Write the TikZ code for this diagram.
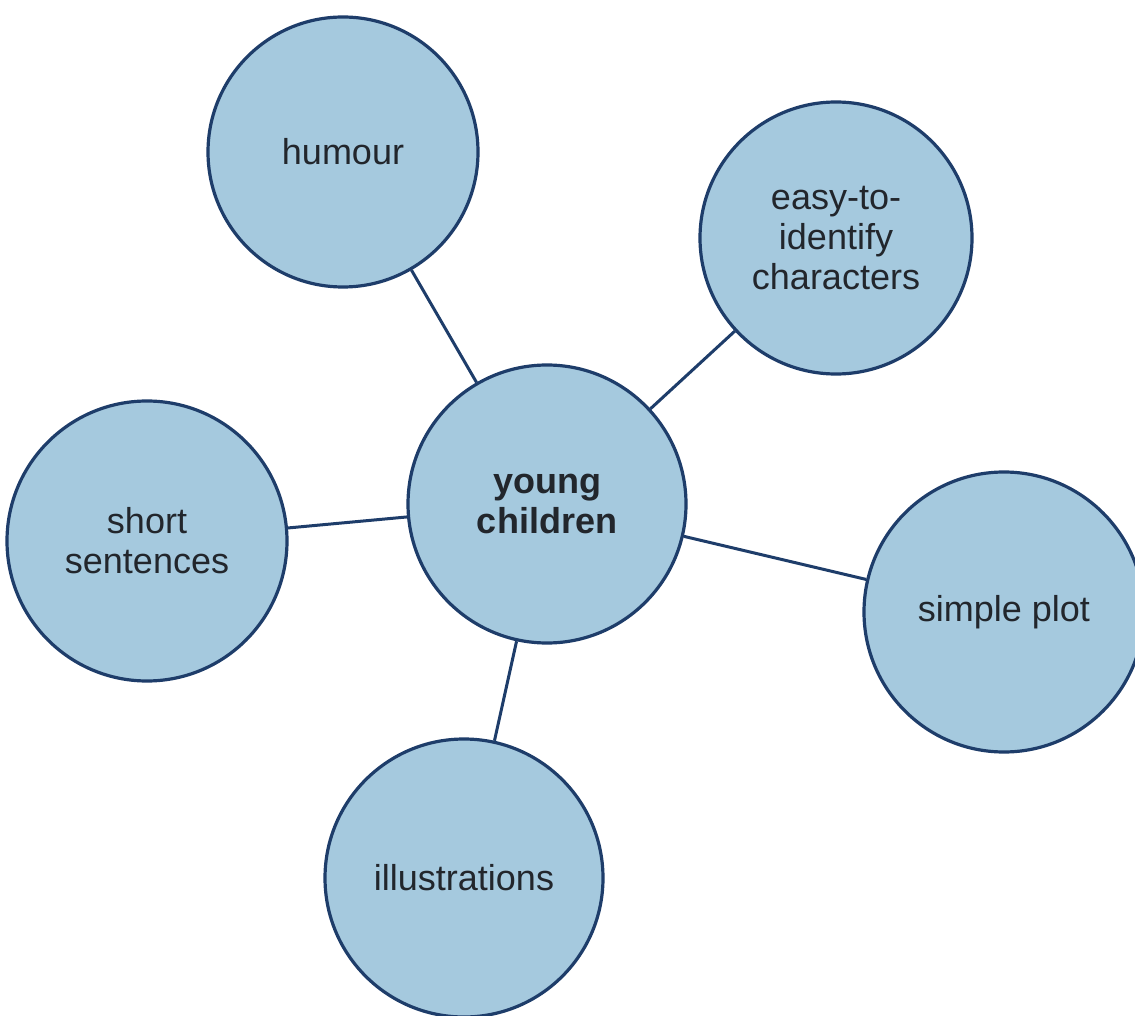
\documentclass[tikz,border=0pt]{standalone}
\usepackage{fontspec}
\setmainfont{Liberation Sans}
\definecolor{bubblefill}{HTML}{A5C9DE}
\definecolor{bubbleline}{HTML}{1E3D6A}
\definecolor{bubbletext}{HTML}{22262C}
\begin{document}
\begin{tikzpicture}[x=1pt,y=-1pt,
  bubble/.style={circle, draw=bubbleline, line width=3.2pt, fill=bubblefill,
    inner sep=0pt, align=center, text=bubbletext,
    font=\fontsize{36}{40}\selectfont},
  link/.style={draw=bubbleline, line width=3pt}]
  \clip (0,0) rectangle (1135,1016);
  \fill[white] (0,0) rectangle (1135,1016);

  % centre topic
  \node[bubble, minimum size=278pt] (young) at (547,504) {\bfseries young\\\bfseries children};
  % surrounding features
  \node[bubble, minimum size=270pt] (humour) at (343,152) {humour};
  \node[bubble, minimum size=272pt] (easy) at (836,238) {easy-to-\\identify\\characters};
  \node[bubble, minimum size=280pt] (short) at (147,541) {short\\sentences};
  \node[bubble, minimum size=280pt] (plot) at (1004,612) {simple plot};
  \node[bubble, minimum size=278pt] (illus) at (464,878) {illustrations};

  \draw[link] (young) -- (humour);
  \draw[link] (young) -- (easy);
  \draw[link] (young) -- (short);
  \draw[link] (young) -- (plot);
  \draw[link] (young) -- (illus);
\end{tikzpicture}
\end{document}
